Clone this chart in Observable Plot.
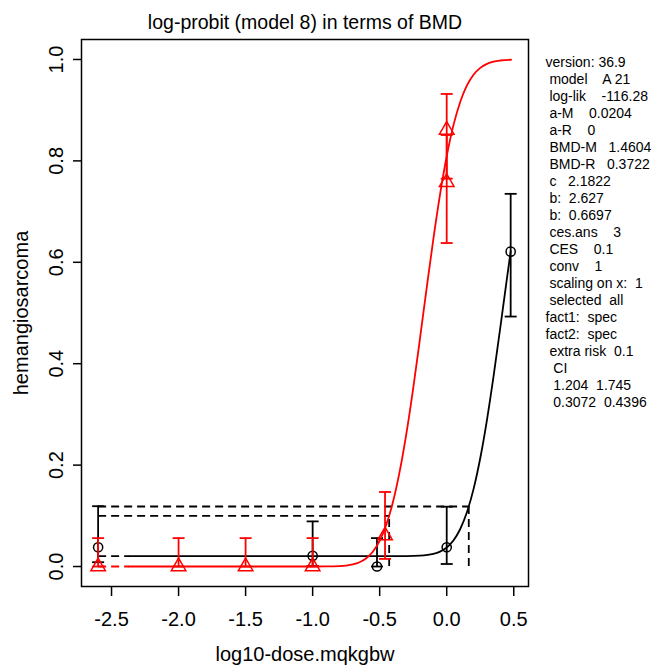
<!DOCTYPE html>
<html><head><meta charset="utf-8">
<script src="https://cdn.jsdelivr.net/npm/d3@7"></script>
<script src="https://cdn.jsdelivr.net/npm/@observablehq/plot@0.6"></script>
<style>
html,body{margin:0;padding:0;background:#fff;}
svg text{white-space:pre;}
</style></head><body><div id="chart"></div>
<script>
// ---- data (log10 dose scale) ----
const titleText = "log-probit (model 8) in terms of BMD";
const xLabel = "log10-dose.mqkgbw";
const yLabel = "hemangiosarcoma";
const xTicks = [-2.5, -2.0, -1.5, -1.0, -0.5, 0.0, 0.5];
const yTicks = [0, 0.2, 0.4, 0.6, 0.8, 1.0];

// species M (black circles)
const doseM = [-2.6, -1.0, -0.52, 0.0, 0.477];
const respM = [0.038, 0.021, 0.0, 0.038, 0.621];
const loM   = [0.0085, 0.001, 0.0, 0.005, 0.493];
const hiM   = [0.119, 0.089, 0.056, 0.118, 0.735];

// species R (red triangles)
const doseR = [-2.6, -2.0, -1.5, -1.0, -0.46, 0.0, 0.0];
const respR = [0, 0, 0, 0, 0.061, 0.861, 0.758];
const loR   = [0, 0, 0, 0, 0.015, 0.765, 0.638];
const hiR   = [0.056, 0.056, 0.056, 0.056, 0.147, 0.932, 0.851];

// fitted curves
const curveMx = [-2.37, -0.4, -0.3, -0.2, -0.1, -0.05, 0, 0.05, 0.1, 0.15, 0.2, 0.25, 0.3, 0.35, 0.4, 0.45, 0.477];
const curveMy = [0.0204, 0.0204, 0.0205, 0.0213, 0.0248, 0.0294, 0.0376, 0.0514, 0.0735, 0.1064, 0.1526, 0.2135, 0.2888, 0.3764, 0.4719, 0.5698, 0.6215];
const curveRx = [-2.37, -1.0, -0.9, -0.8, -0.75, -0.7, -0.65, -0.6, -0.55, -0.5, -0.45, -0.4, -0.35, -0.3, -0.25, -0.2, -0.15, -0.1, -0.05, 0, 0.05, 0.1, 0.15, 0.2, 0.25, 0.3, 0.35, 0.4, 0.48];
const curveRy = [0, 0, 0.0001, 0.0008, 0.0019, 0.0041, 0.0084, 0.0162, 0.0295, 0.0508, 0.0829, 0.1282, 0.1885, 0.2636, 0.3515, 0.4483, 0.5483, 0.6452, 0.7336, 0.8092, 0.8700, 0.9158, 0.9483, 0.9699, 0.9835, 0.9914, 0.9958, 0.9980, 0.9995];

// background levels (dashed start of curves)
const bgLevel = [0.0204, 0];
const bgColor = ["black", "red"];
const curveStart = -2.37;

// BMD lines
const bmdLog = [0.1645, -0.4292];
const bmrLevel = [0.1184, 0.1];

const infoLines = [
  "version: 36.9",
  " model    A 21",
  " log-lik    -116.28",
  " a-M    0.0204",
  " a-R    0",
  " BMD-M   1.4604",
  " BMD-R   0.3722",
  " c   2.1822",
  " b:  2.627",
  " b:  0.6697",
  " ces.ans    3",
  " CES    0.1",
  " conv    1",
  " scaling on x:  1",
  " selected  all",
  "fact1:  spec",
  "fact2:  spec",
  " extra risk  0.1",
  "  CI",
  "  1.204  1.745",
  "  0.3072  0.4396"
];

// ---- tables ----
const ptsM = doseM.map((x, i) => ({x, y: respM[i], lo: loM[i], hi: hiM[i]}));
const ptsR = doseR.map((x, i) => ({x, y: respR[i], lo: loR[i], hi: hiR[i]}));
const capsM = ptsM.flatMap(d => [{x: d.x, y: d.lo}, {x: d.x, y: d.hi}]);
const capsR = ptsR.flatMap(d => [{x: d.x, y: d.lo}, {x: d.x, y: d.hi}]);
const lineM = curveMx.map((x, i) => ({x, y: curveMy[i]}));
const lineR = curveRx.map((x, i) => ({x, y: curveRy[i]}));
const bgRows = bgLevel.map((y, i) => ({y, c: bgColor[i]}));
const bmdRows = bmdLog.map((x, i) => ({x, y: bmrLevel[i]}));

const capSymbol = {
  draw(context, size) {
    const r = Math.sqrt(size / Math.PI);
    context.moveTo(-r, 0);
    context.lineTo(r, 0);
  }
};

const dash = "8,5";
const lw = 1.8;

const chart = Plot.plot({
  width: 654,
  height: 665,
  marginLeft: 81,
  marginRight: 126,
  marginTop: 39,
  marginBottom: 79,
  x: {domain: [-2.724, 0.61]},
  y: {domain: [-0.0394, 1.0394]},
  style: {fontFamily: "'Liberation Sans', Arial, sans-serif", fontSize: "20px", background: "white", color: "black", overflow: "visible"},
  marks: [
    Plot.frame({stroke: "black", strokeWidth: 1.5}),
    Plot.axisX({ticks: xTicks, tickSize: 10, tickPadding: 15, tickFormat: d => d.toFixed(1), fontSize: 20, label: null, strokeWidth: 1.5}),
    Plot.axisY({ticks: yTicks, tickSize: 8, tickFormat: () => "", label: null, strokeWidth: 1.5}),
    Plot.text(yTicks, {y: d => d, frameAnchor: "left", dx: -25, rotate: -90, textAnchor: "middle", lineAnchor: "middle", text: d => d.toFixed(1), fontSize: 20}),
    Plot.text([titleText], {frameAnchor: "top", dy: -17, textAnchor: "middle", lineAnchor: "middle", text: d => d, fontSize: 19.5}),
    Plot.text([xLabel], {frameAnchor: "bottom", dy: 68, textAnchor: "middle", lineAnchor: "middle", text: d => d, fontSize: 20}),
    Plot.text([yLabel], {frameAnchor: "left", dx: -60, rotate: -90, textAnchor: "middle", lineAnchor: "middle", text: d => d, fontSize: 20}),
    Plot.text([infoLines.join("\n")], {frameAnchor: "top-right", dx: 17, dy: 15, textAnchor: "start", lineAnchor: "top", lineHeight: 17 / 14, fontSize: 14, text: d => d}),

    // dashed BMD lines
    Plot.link(bmdRows, {x1: () => doseM[0], x2: "x", y1: "y", y2: "y", stroke: "black", strokeWidth: lw, strokeDasharray: dash}),
    Plot.ruleX(bmdRows, {x: "x", y1: () => 0, y2: "y", stroke: "black", strokeWidth: lw, strokeDasharray: dash}),

    // background dashed starts
    Plot.link(bgRows.filter(d => d.c === "black"), {x1: () => doseM[0], x2: () => curveStart, y1: "y", y2: "y", stroke: "black", strokeWidth: lw, strokeDasharray: dash}),

    // black species
    Plot.line(lineM, {x: "x", y: "y", stroke: "black", strokeWidth: lw, curve: "monotone-x"}),
    Plot.ruleX(ptsM, {x: "x", y1: "lo", y2: "hi", stroke: "black", strokeWidth: lw}),
    Plot.dot(capsM, {x: "x", y: "y", r: 6, symbol: capSymbol, stroke: "black", fill: "none", strokeWidth: lw}),
    Plot.dot(ptsM, {x: "x", y: "y", r: 4.6, symbol: "circle", stroke: "black", fill: "none", strokeWidth: 1.5}),

    // red species
    Plot.link(bgRows.filter(d => d.c === "red"), {x1: () => doseR[0], x2: () => curveStart, y1: "y", y2: "y", stroke: "red", strokeWidth: lw, strokeDasharray: dash}),
    Plot.line(lineR, {x: "x", y: "y", stroke: "red", strokeWidth: lw, curve: "monotone-x"}),
    Plot.ruleX(ptsR, {x: "x", y1: "lo", y2: "hi", stroke: "red", strokeWidth: lw}),
    Plot.dot(capsR, {x: "x", y: "y", r: 6, symbol: capSymbol, stroke: "red", fill: "none", strokeWidth: lw}),
    Plot.dot(ptsR, {x: "x", y: "y", r: 5.4, symbol: "triangle", stroke: "red", fill: "none", strokeWidth: 1.5})
  ]
});
document.getElementById("chart").appendChild(chart);
</script></body></html>
